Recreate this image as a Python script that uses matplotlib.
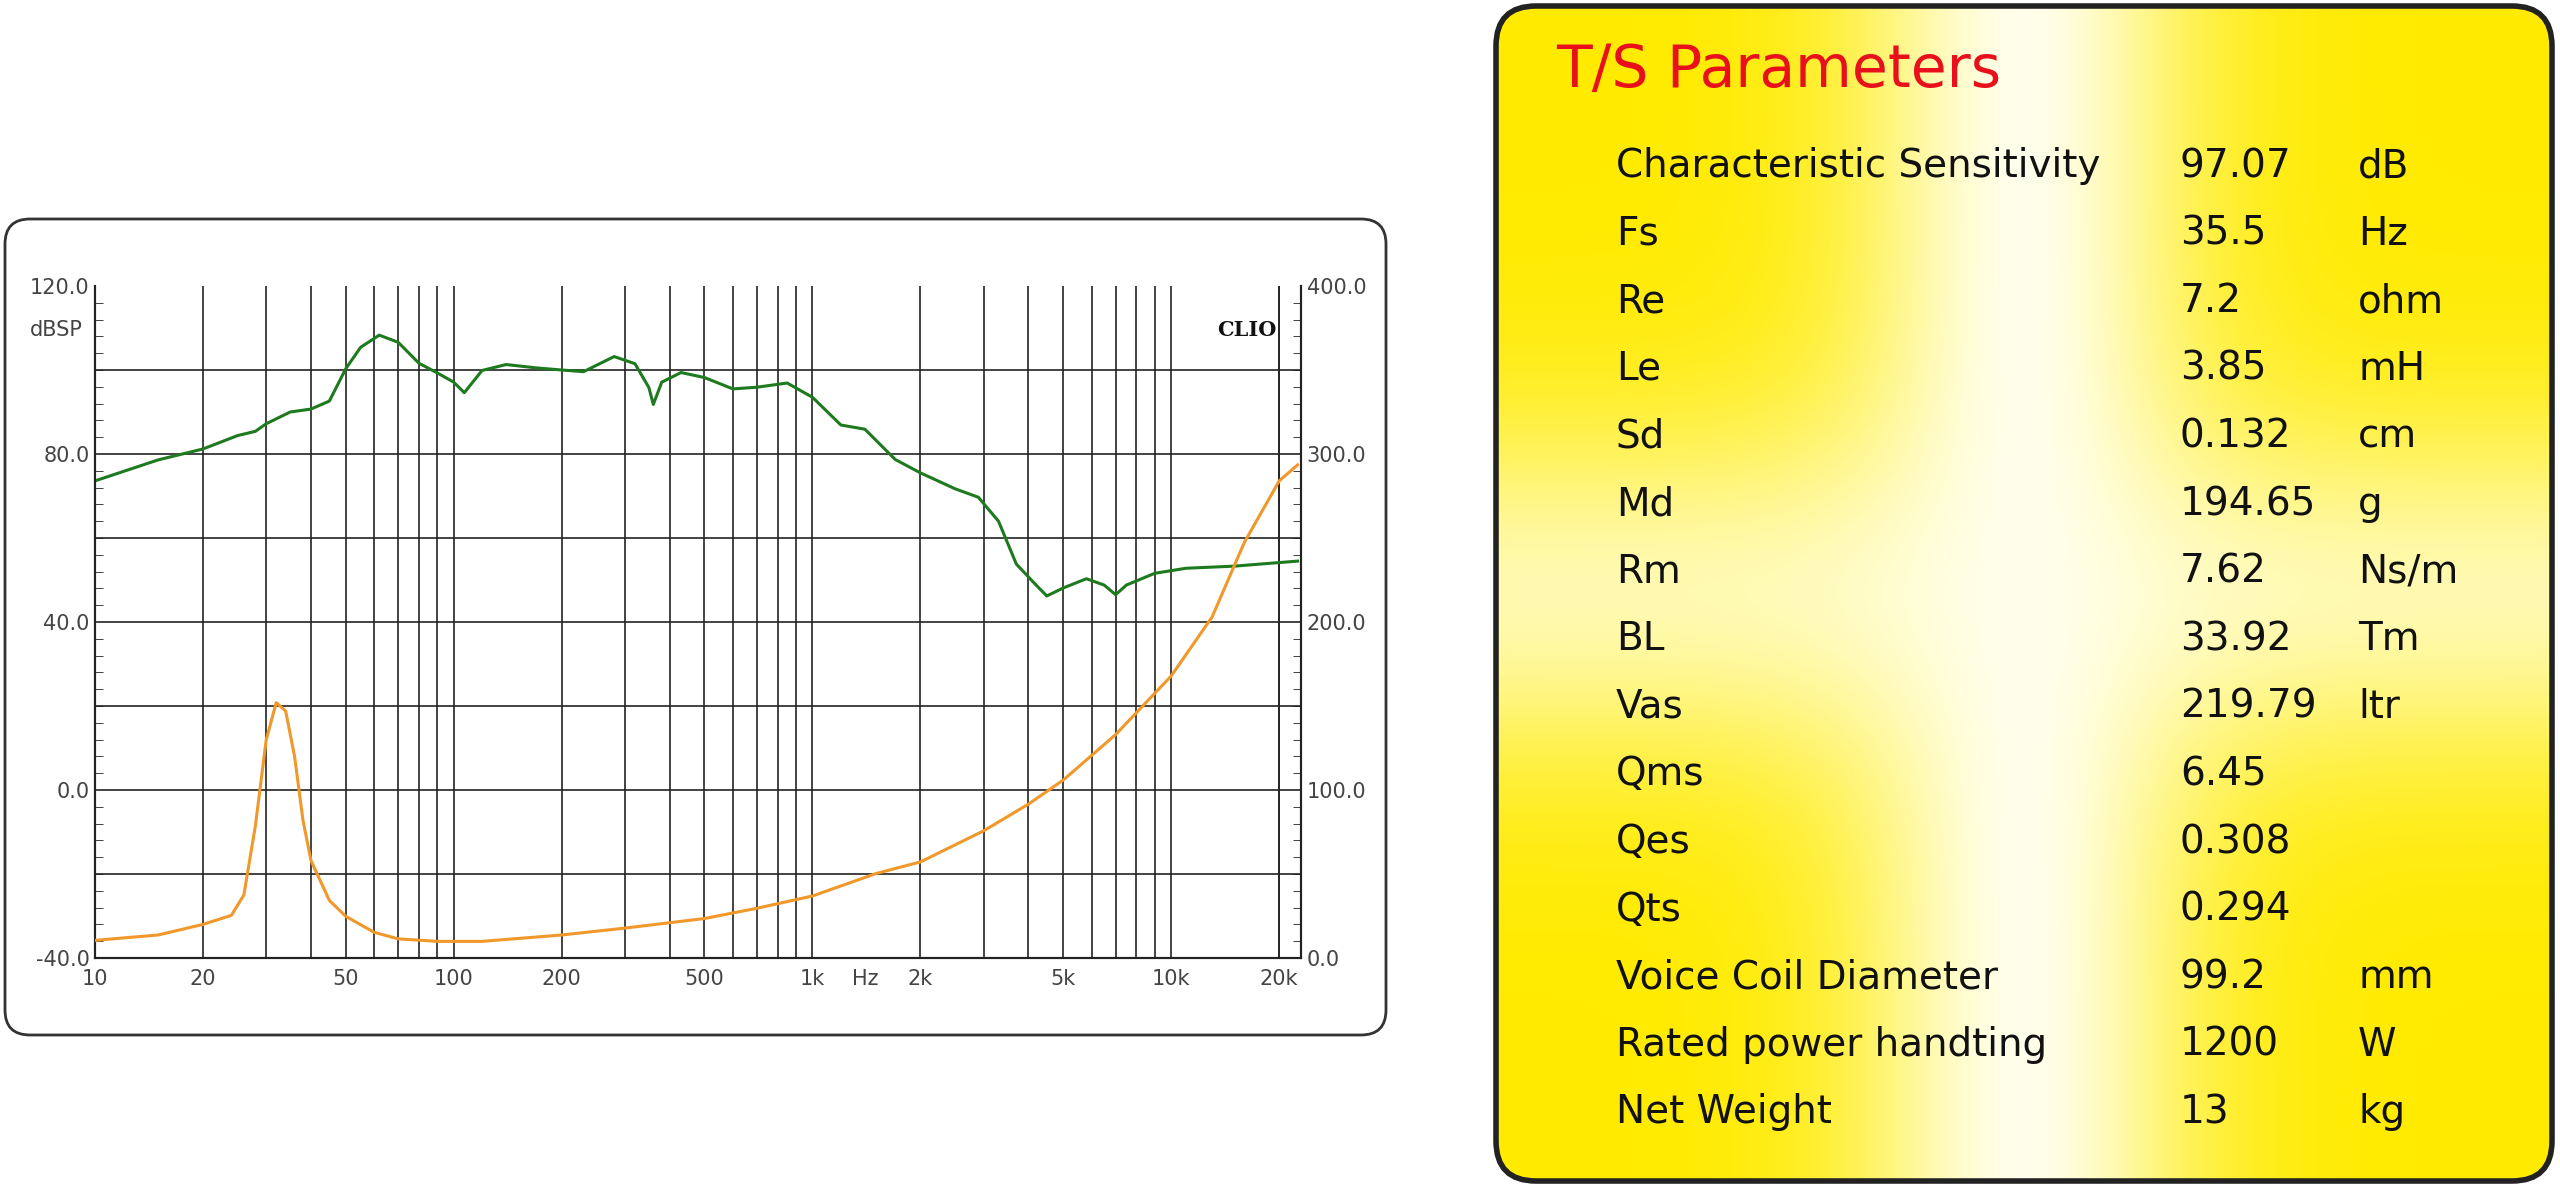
import matplotlib.pyplot as plt
import numpy as np
from matplotlib.patches import FancyBboxPatch
from matplotlib.ticker import FixedLocator, MultipleLocator

# SPL curve (Hz, dB)
spl_freq = [10, 15, 20, 25, 28, 30, 35, 40, 45, 50, 55, 62, 70, 80, 90, 100, 107, 120, 140,
            170, 200, 230, 280, 320, 350, 360, 380, 430, 500, 600, 700, 850, 1000, 1200, 1400,
            1700, 2000, 2500, 2900, 3300, 3700, 4200, 4500, 5000, 5800, 6500, 7000, 7500, 9000,
            11000, 15000, 22500]
spl_db = [73.6, 78.6, 81.2, 84.4, 85.4, 87.2, 90.0, 90.7, 92.6, 100.3, 105.4, 108.3, 106.6,
          101.6, 99.3, 97.1, 94.6, 99.9, 101.3, 100.5, 100.0, 99.6, 103.2, 101.5, 95.8, 91.8,
          97.1, 99.4, 98.2, 95.5, 95.9, 96.9, 93.5, 86.9, 85.9, 78.7, 75.5, 71.7, 69.7, 64.0,
          53.8, 48.8, 46.2, 48.1, 50.3, 48.8, 46.5, 48.8, 51.6, 52.8, 53.3, 54.5]

# impedance curve (Hz, right axis units)
imp_freq = [10, 15, 20, 24, 26, 28, 30, 32, 34, 36, 38, 40, 45, 50, 60, 70, 90, 120, 200, 300,
            500, 700, 1000, 1500, 2000, 3000, 4000, 5000, 7000, 10000, 13000, 16000, 20000, 22500]
imp_val = [10.5, 13.7, 20.0, 25.4, 37.5, 78.8, 129.7, 152.0, 147.0, 120.0, 81.9, 58.0, 34.3,
           24.8, 15.3, 11.4, 9.9, 9.9, 13.7, 17.8, 23.5, 29.6, 36.9, 50.2, 57.2, 75.7, 91.6,
           105.9, 133.0, 167.9, 203.0, 247.5, 284.0, 293.5]

x_ticks = [10, 20, 50, 100, 200, 500, 1000, 1400, 2000, 5000, 10000, 20000]
x_labels = ['10', '20', '50', '100', '200', '500', '1k', 'Hz', '2k', '5k', '10k', '20k']

param_names = ['Characteristic Sensitivity', 'Fs', 'Re', 'Le', 'Sd', 'Md', 'Rm', 'BL', 'Vas',
               'Qms', 'Qes', 'Qts', 'Voice Coil Diameter', 'Rated power handting', 'Net Weight']
param_values = ['97.07', '35.5', '7.2', '3.85', '0.132', '194.65', '7.62', '33.92', '219.79',
                '6.45', '0.308', '0.294', '99.2', '1200', '13']
param_units = ['dB', 'Hz', 'ohm', 'mH', 'cm', 'g', 'Ns/m', 'Tm', 'ltr', '', '', '', 'mm', 'W', 'kg']

W, H = 2560, 1187
fig = plt.figure(figsize=(W / 100, H / 100), dpi=100)

# background layer in pixel coordinates
bg = fig.add_axes([0, 0, 1, 1], zorder=0)

box = FancyBboxPatch((5, 219), 1381, 816, boxstyle='round,pad=0,rounding_size=25',
                     fc='white', ec='#333333', lw=2)
bg.add_patch(box)

# yellow panel with white glow in the middle
px0, py0, px1, py1 = 1496, 6, 2552, 1181
gx = np.linspace(-1, 1, 400)
gy = np.linspace(-1, 1, 440)
GX, GY = np.meshgrid(gx, gy)
a = np.exp(-(GX / 0.32) ** 2)
b = np.exp(-(GY / 0.3) ** 2) * 0.75
white = 1 - (1 - a) * (1 - b)
img = np.zeros((440, 400, 3))
img[..., 0] = 1.0
img[..., 1] = 0.92 + 0.08 * white
img[..., 2] = white * 0.92
panel = FancyBboxPatch((px0, py0), px1 - px0, py1 - py0,
                       boxstyle='round,pad=0,rounding_size=40', fc='none', ec='#222222', lw=4)
im = bg.imshow(img, extent=(px0, px1, py1, py0), aspect='auto', zorder=1)
bg.add_patch(panel)
im.set_clip_path(panel)
panel.set_zorder(2)
bg.set_xlim(0, W)
bg.set_ylim(H, 0)
bg.axis('off')

font = 'DejaVu Sans'
bg.text(1556, 70, 'T/S Parameters', color='#e8101a', fontsize=42, family=font,
        va='center', ha='left', zorder=3)
for i, (n, v, u) in enumerate(zip(param_names, param_values, param_units)):
    y = 166 + i * 67.6
    bg.text(1616, y, n, fontsize=28, family=font, color='#111111', va='center', zorder=3)
    bg.text(2180, y, v, fontsize=28, family=font, color='#111111', va='center', zorder=3)
    if u:
        bg.text(2358, y, u, fontsize=28, family=font, color='#111111', va='center', zorder=3)

# chart
ax = fig.add_axes([95 / W, 229 / H, 1206 / W, 672 / H], zorder=2)
ax.set_xscale('log')
ax.set_xlim(10, 23000)
ax.set_ylim(-40, 120)
grid_x = [m * 10 ** e for e in range(1, 5) for m in range(1, 10)] + [20000]
for gxv in grid_x:
    if 10 < gxv < 23000:
        ax.axvline(gxv, color='#222222', lw=1.2, zorder=1)
for gyv in range(-20, 120, 20):
    ax.axhline(gyv, color='#222222', lw=1.2, zorder=1)
ax.plot(spl_freq, spl_db, color='#1e7a1e', lw=2.2, zorder=3)

ax2 = ax.twinx()
ax2.set_ylim(0, 400)
ax2.plot(imp_freq, imp_val, color='#f0982a', lw=2.2, zorder=3)

ax.xaxis.set_major_locator(FixedLocator(x_ticks))
ax.set_xticklabels(x_labels)
ax.xaxis.set_minor_locator(FixedLocator([]))
ax.tick_params(axis='x', length=0, labelsize=15, labelcolor='#444444', pad=8)
ax.set_yticks([-40, 0, 40, 80, 120])
ax.set_yticklabels(['-40.0', '0.0', '40.0', '80.0', '120.0'])
ax.yaxis.set_minor_locator(MultipleLocator(4))
ax.tick_params(axis='y', which='major', length=0, labelsize=15, labelcolor='#444444', pad=4)
ax.tick_params(axis='y', which='minor', direction='in', length=6, color='#222222')
ax2.set_yticks([0, 100, 200, 300, 400])
ax2.set_yticklabels(['0.0', '100.0', '200.0', '300.0', '400.0'])
ax2.yaxis.set_minor_locator(MultipleLocator(10))
ax2.tick_params(axis='y', which='major', length=0, labelsize=15, labelcolor='#444444', pad=4)
ax2.tick_params(axis='y', which='minor', direction='in', length=6, color='#222222')
for a_ in (ax, ax2):
    for s in a_.spines.values():
        s.set_color('#222222')
        s.set_linewidth(1.5)
    a_.spines['top'].set_visible(False)

ax.text(-0.01, 0.935, 'dBSP', transform=ax.transAxes, ha='right', va='center',
        fontsize=15, color='#444444')
ax.text(0.98, 0.935, 'CLIO', transform=ax.transAxes, ha='right', va='center',
        fontsize=15, fontweight='bold', family='DejaVu Serif', color='#111111')

fig.savefig('out.png', dpi=100)
